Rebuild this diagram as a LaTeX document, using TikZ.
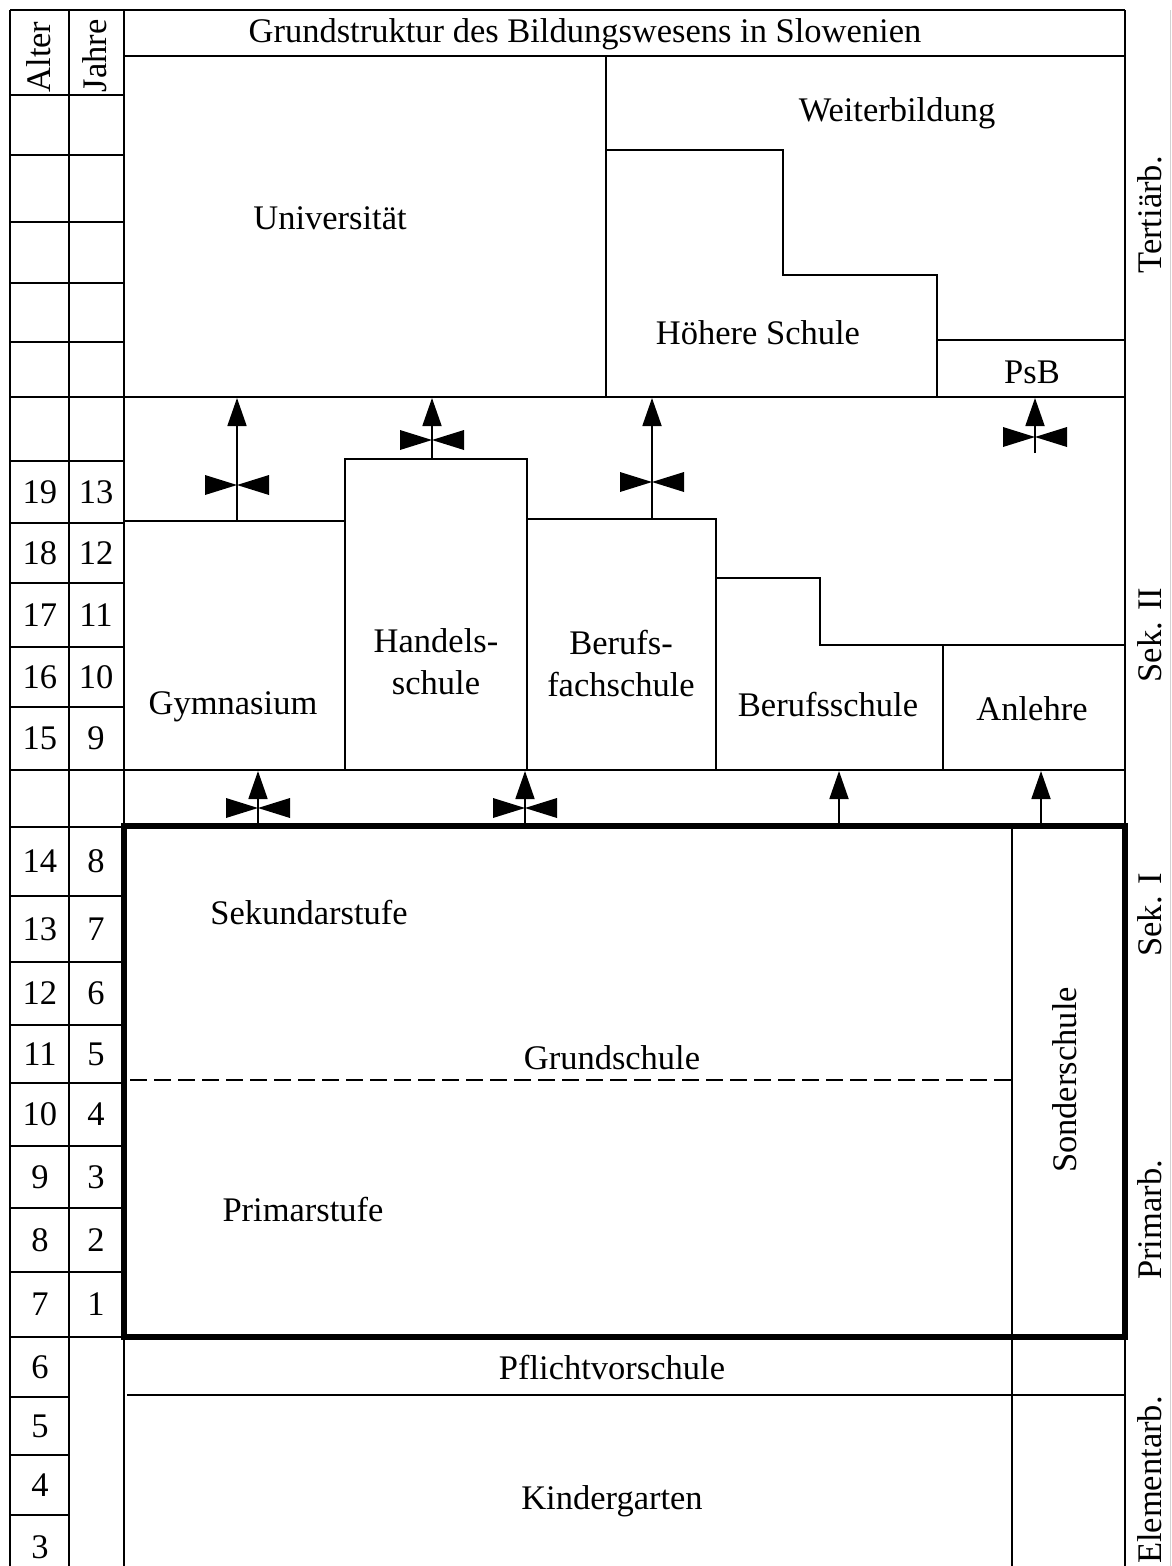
\documentclass[tikz,border=0pt]{standalone}
\usepackage{fontspec}
\setmainfont{Liberation Serif}
\usetikzlibrary{arrows.meta}
\begin{document}
\begin{tikzpicture}[x=1pt,y=-1pt,
  ln/.style={line width=1.8pt},
  heavybox/.style={line width=6pt},
  basetxt/.style={font=\fontsize{34.5}{42}\selectfont, inner sep=0pt, align=center, text height=0.68em, text depth=0pt},
  lbl/.style={basetxt, yshift=-8pt},
  rot/.style={basetxt, rotate=90},
  arr/.style={line width=1.8pt,-{Triangle[length=28pt,width=19pt]}},
  bowtie/.pic={
    \fill (-32,-10) -- (0,0) -- (-32,10) -- cycle;
    \fill (32,-10) -- (0,0) -- (32,10) -- cycle;
  }
]
\useasboundingbox (0,0) rectangle (1171,1566);
\fill[white] (0,0) rectangle (1171,1566);

% faint right border
\draw[gray!35, line width=0.8pt] (1170,10) -- (1170,1566);

% left table verticals
\draw[ln] (10,10) -- (10,1566);
\draw[ln] (69,10) -- (69,1566);
\draw[ln] (124,10) -- (124,1566);
% frame
\draw[ln] (10,10) -- (1125,10);
\draw[ln] (1125,10) -- (1125,826);
\draw[ln] (1125,1337) -- (1125,1566);
\draw[ln] (124,56) -- (1125,56);
\foreach \yy in {95,155,222,283,342,461,523,583,647,707,827,896,962,1025,1083,1146,1208,1272,1337}
  \draw[ln] (10,\yy) -- (124,\yy);
\foreach \yy in {1397,1455,1515}
  \draw[ln] (10,\yy) -- (69,\yy);
\draw[ln] (10,397) -- (1125,397);
\draw[ln] (10,770) -- (1125,770);

% tertiary
\draw[ln] (606,56) -- (606,397);
\draw[ln] (606,150) -- (783,150) -- (783,275) -- (937,275) -- (937,397);
\draw[ln] (937,340) -- (1125,340);

% secondary II
\draw[ln] (124,521) -- (345,521);
\draw[ln] (345,770) -- (345,459) -- (527,459) -- (527,770);
\draw[ln] (527,519) -- (716,519) -- (716,770);
\draw[ln] (716,578) -- (820,578) -- (820,645) -- (1125,645);
\draw[ln] (943,645) -- (943,770);

% compulsory school box
\draw[ln] (1012,826) -- (1012,1566);
\draw[ln] (127,1395) -- (1125,1395);
\draw[ln, dash pattern=on 17pt off 7pt] (130,1080) -- (1012,1080);
\draw[heavybox] (124,826) rectangle (1125,1337);

% arrow coordinates
\coordinate (gymS) at (237,521);   \coordinate (gymE) at (237,398);
\coordinate (hanS) at (432,459);   \coordinate (hanE) at (432,398);
\coordinate (bfsS) at (652,519);   \coordinate (bfsE) at (652,398);
\coordinate (psbS) at (1035,453);  \coordinate (psbE) at (1035,398);
\coordinate (g1S) at (258,826);    \coordinate (g1E) at (258,771);
\coordinate (g2S) at (525,826);    \coordinate (g2E) at (525,771);
\coordinate (g3S) at (839,826);    \coordinate (g3E) at (839,771);
\coordinate (g4S) at (1041,826);   \coordinate (g4E) at (1041,771);

\draw[arr] (gymS) -- (gymE);
\draw[arr] (hanS) -- (hanE);
\draw[arr] (bfsS) -- (bfsE);
\draw[arr] (psbS) -- (psbE);
\draw[arr] (g1S) -- (g1E);
\draw[arr] (g2S) -- (g2E);
\draw[arr] (g3S) -- (g3E);
\draw[arr] (g4S) -- (g4E);

\pic at (237,485) {bowtie};
\pic at (432,440) {bowtie};
\pic at (652,482) {bowtie};
\pic at (1035,437) {bowtie};
\pic at (258,808) {bowtie};
\pic at (525,808) {bowtie};

% texts
\node[lbl] (title) at (585,31) {Grundstruktur des Bildungswesens in Slowenien};
\node[lbl] (weiter) at (897,110) {Weiterbildung};
\node[lbl] (uni) at (330,218) {Universität};
\node[lbl] (hoehere) at (758,333) {Höhere Schule};
\node[lbl] (psb) at (1032,372) {PsB};
\node[lbl] (gym) at (233,703) {Gymnasium};
\node[lbl] (handel) at (436,683) {Handels-\\schule};
\node[lbl] (bfach) at (621,685) {Berufs-\\fachschule};
\node[lbl] (bschule) at (828,705) {Berufsschule};
\node[lbl] (anlehre) at (1032,709) {Anlehre};
\node[lbl] (sek) at (309,913) {Sekundarstufe};
\node[lbl] (grund) at (612,1058) {Grundschule};
\node[lbl] (prim) at (303,1210) {Primarstufe};
\node[rot] (sonder) at (1073,1080) {Sonderschule};
\node[lbl] (pflicht) at (612,1368) {Pflichtvorschule};
\node[lbl] (kiga) at (612,1498) {Kindergarten};

\node[rot] (tert) at (1158,215) {Tertiärb.};
\node[rot] (sekII) at (1158,635) {Sek. II};
\node[rot] (sekI) at (1158,915) {Sek. I};
\node[rot] (primb) at (1158,1220) {Primarb.};
\node[rot] (elem) at (1158,1480) {Elementarb.};

\node[rot] (alter) at (47,57) {Alter};
\node[rot] (jahre) at (103,56) {Jahre};

% age / year numbers
\foreach \a/\j/\yy in {19/13/492,18/12/553,17/11/615,16/10/677,15/9/738,14/8/861,13/7/929,12/6/993,11/5/1054,10/4/1114,9/3/1177,8/2/1240,7/1/1304}{
  \node[lbl] (age\a) at (40,\yy) {\a};
  \node[lbl] (yr\a) at (96,\yy) {\j};
}
\foreach \a/\yy in {6/1367,5/1426,4/1485,3/1547}
  \node[lbl] (age\a) at (40,\yy) {\a};
\end{tikzpicture}
\end{document}
